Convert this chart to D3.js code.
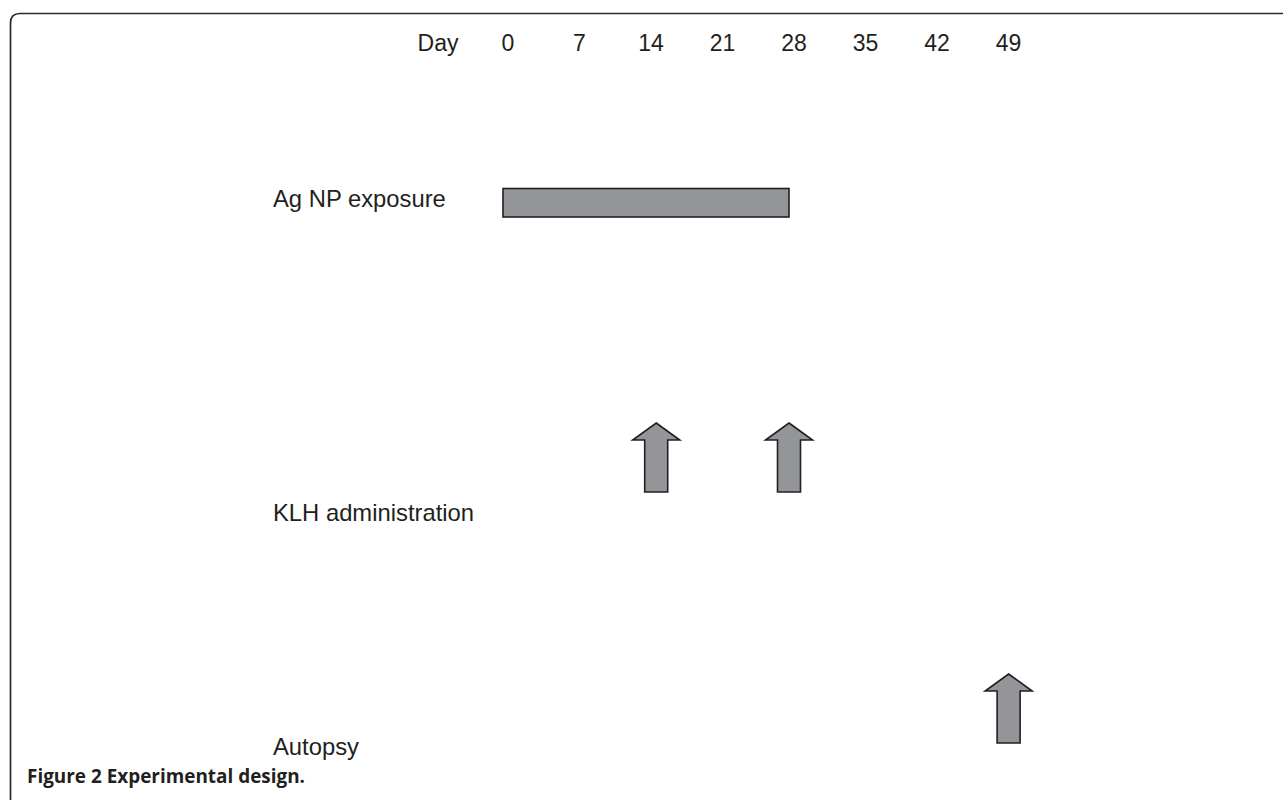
<!DOCTYPE html>
<html>
<head>
<meta charset="utf-8">
<script src="https://cdn.jsdelivr.net/npm/d3@7"></script>
<style>
  html, body { margin: 0; padding: 0; background: #ffffff; }
  svg { display: block; }
</style>
</head>
<body>
<script>
// ---- data ----
const tickDays = [0, 7, 14, 21, 28, 35, 42, 49];
const tickLabels = ["0", "7", "14", "21", "28", "35", "42", "49"];
const axisTitle = "Day";
const rowLabels = ["Ag NP exposure", "KLH administration", "Autopsy"];
const exposureStart = [0];
const exposureEnd = [28];
const klhDays = [15, 28];
const autopsyDays = [49.5];
const caption = "Figure 2 Experimental design.";

// ---- layout ----
const W = 1283, H = 800;
const ink = "#231f20";
const fillGray = "#939598";
const textFont = "'Liberation Sans', Arial, Helvetica, sans-serif";

const svg = d3.select("body").append("svg")
  .attr("width", W).attr("height", H);

const x = d3.scaleLinear().domain([0, 28]).range([503, 789]);

// frame with rounded top-left corner
svg.append("path")
  .attr("d", "M10.5,800 L10.5,23 Q10.5,13.5 20,13.5 L1283,13.5")
  .attr("fill", "none")
  .attr("stroke", "#2b2b2b")
  .attr("stroke-width", 1.7);

// day axis labels
svg.append("text")
  .attr("x", 438).attr("y", 51)
  .attr("text-anchor", "middle")
  .attr("font-family", textFont).attr("font-size", 23)
  .attr("fill", ink)
  .text(axisTitle);

svg.append("g").selectAll("text")
  .data(tickDays)
  .join("text")
  .attr("x", d => x(d) + 5)
  .attr("y", 51)
  .attr("text-anchor", "middle")
  .attr("font-family", textFont).attr("font-size", 23)
  .attr("fill", ink)
  .text((d, i) => tickLabels[i]);

// row labels
const rowBaselines = [207, 521, 755];
svg.append("g").selectAll("text")
  .data(rowLabels)
  .join("text")
  .attr("x", 273)
  .attr("y", (d, i) => rowBaselines[i])
  .attr("font-family", textFont).attr("font-size", 23.8)
  .attr("fill", ink)
  .text(d => d);

// exposure bar
svg.append("g").selectAll("rect")
  .data(exposureStart)
  .join("rect")
  .attr("x", (d) => x(d))
  .attr("y", 188.5)
  .attr("width", (d, i) => x(exposureEnd[i]) - x(d))
  .attr("height", 28.5)
  .attr("fill", fillGray)
  .attr("stroke", ink)
  .attr("stroke-width", 1.6);

// arrows
function arrowPath(cx, tipY) {
  const hw = 23.5, sw = 11.5, headH = 17, total = 69;
  return `M${cx},${tipY} L${cx + hw},${tipY + headH} L${cx + sw},${tipY + headH} ` +
         `L${cx + sw},${tipY + total} L${cx - sw},${tipY + total} L${cx - sw},${tipY + headH} ` +
         `L${cx - hw},${tipY + headH} Z`;
}

svg.append("g").selectAll("path")
  .data(klhDays)
  .join("path")
  .attr("d", d => arrowPath(x(d), 423))
  .attr("fill", fillGray)
  .attr("stroke", ink)
  .attr("stroke-width", 1.6)
  .attr("stroke-linejoin", "miter");

svg.append("g").selectAll("path")
  .data(autopsyDays)
  .join("path")
  .attr("d", d => arrowPath(x(d), 674))
  .attr("fill", fillGray)
  .attr("stroke", ink)
  .attr("stroke-width", 1.6)
  .attr("stroke-linejoin", "miter");

// caption
svg.append("text")
  .attr("x", 27).attr("y", 783)
  .attr("font-family", "'Open Sans', 'Noto Sans', sans-serif")
  .attr("font-weight", "bold")
  .attr("font-size", 20)
  .attr("textLength", 278)
  .attr("lengthAdjust", "spacingAndGlyphs")
  .attr("fill", ink)
  .text(caption);
</script>
</body>
</html>
